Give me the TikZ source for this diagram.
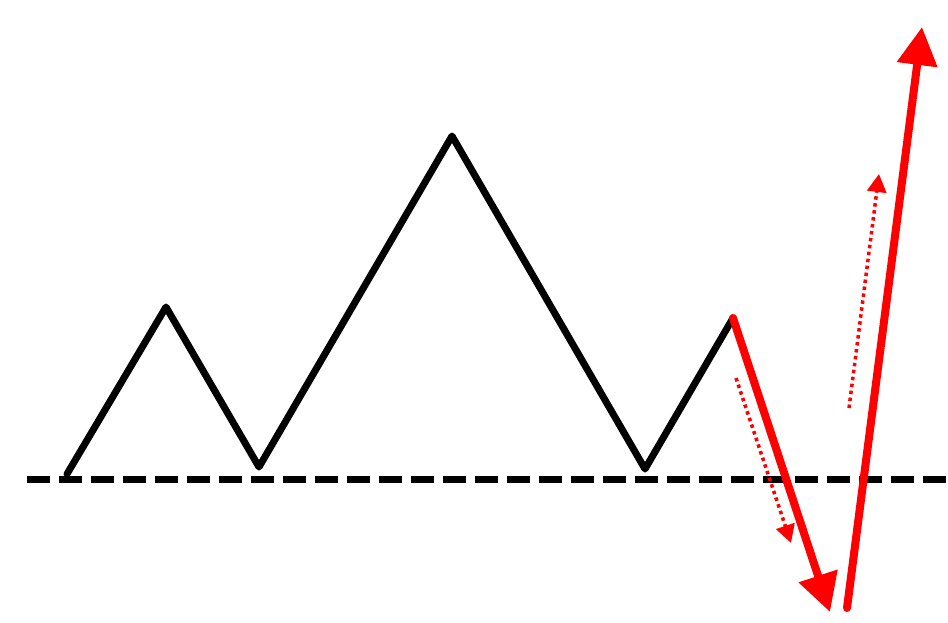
\documentclass[tikz,border=0pt]{standalone}
\usetikzlibrary{arrows.meta}
\tikzset{
  chart/.style={line width=7pt, line join=round, line cap=round, black},
  base/.style={line width=7pt, black, dash pattern=on 23pt off 9pt},
  bigred/.style={line width=8pt, red, line cap=round, -{Triangle[length=38pt,width=39pt]}},
  dotred/.style={line width=3.5pt, red, dash pattern=on 3.5pt off 3.5pt, -{Triangle[length=18pt,width=19pt]}}
}
\begin{document}
\begin{tikzpicture}[x=1pt,y=-1pt]
\useasboundingbox (0,0) rectangle (948,623);
\coordinate (b0) at (27,479.5);
\coordinate (b1) at (948,479.5);
\coordinate (p0) at (67,474);
\coordinate (p1) at (166,307);
\coordinate (p2) at (259,467);
\coordinate (p3) at (452,136);
\coordinate (p4) at (645,469);
\coordinate (p5) at (733,318);
\coordinate (d1) at (830,612);
\coordinate (u0) at (847,608);
\coordinate (u1) at (922,27);
\coordinate (s0) at (736,378);
\coordinate (s1) at (791,543);
\coordinate (t0) at (849,408);
\coordinate (t1) at (879,174);
\draw[base] (b0) -- (b1);
\draw[chart] (p0) -- (p1) -- (p2) -- (p3) -- (p4) -- (p5);
\draw[bigred] (p5) -- (d1);
\draw[bigred] (u0) -- (u1);
\draw[dotred] (s0) -- (s1);
\draw[dotred] (t0) -- (t1);
\end{tikzpicture}
\end{document}
